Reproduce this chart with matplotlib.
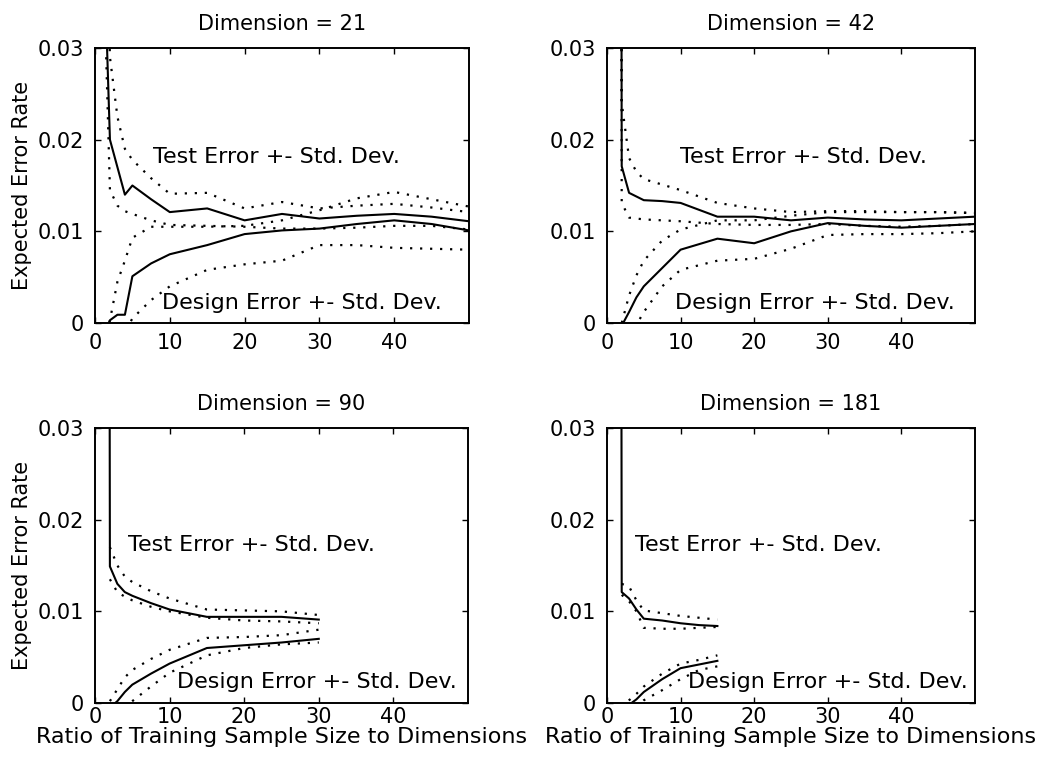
import matplotlib
matplotlib.use("Agg")
import matplotlib.pyplot as plt
import numpy as np

plt.rcParams['font.family'] = 'DejaVu Sans'
plt.rcParams['font.size'] = 15

nan = np.nan

# Dimension = 21
x21 = [1.5, 2, 3, 4, 5, 7.5, 10, 15, 20, 25, 30, 35, 40, 45, 50]
test21 = [0.033, 0.020, 0.017, 0.0140, 0.0150, 0.0135, 0.0121, 0.0125, 0.0112, 0.0119, 0.0114, 0.0117, 0.0119, 0.0116, 0.0111]
test21_up = [0.045, 0.029, 0.0225, 0.019, 0.0178, 0.0158, 0.0141, 0.0142, 0.0125, 0.0132, 0.0125, 0.0128, 0.0130, 0.0126, 0.0121]
test21_lo = [0.029, 0.0145, 0.0128, 0.0122, 0.0119, 0.0112, 0.0107, 0.0106, 0.0105, 0.0103, 0.0103, 0.0104, 0.0106, 0.0106, 0.0102]
design21 = [-0.001, 0.0003, 0.0009, 0.0009, 0.0051, 0.0065, 0.0075, 0.0085, 0.0097, 0.0101, 0.0103, 0.0108, 0.0112, 0.0108, 0.0101]
design21_up = [-0.001, 0.0003, 0.0045, 0.0068, 0.0093, 0.0105, 0.0105, 0.0105, 0.0106, 0.0112, 0.0123, 0.0136, 0.0143, 0.0135, 0.0127]
design21_lo = [-0.003, -0.003, -0.002, -0.001, 0.0005, 0.0025, 0.0040, 0.0058, 0.0064, 0.0068, 0.0085, 0.0085, 0.0082, 0.0081, 0.0080]

# Dimension = 42
x42 = [1.5, 2, 3, 4, 5, 7.5, 10, 15, 20, 25, 30, 35, 40, 45, 50]
test42 = [0.30, 0.0171, 0.0142, 0.0138, 0.0134, 0.0133, 0.0131, 0.0116, 0.0116, 0.0112, 0.0115, 0.0113, 0.0112, 0.0114, 0.0116]
test42_up = [0.40, 0.024, 0.0180, 0.0165, 0.0157, 0.0151, 0.0145, 0.0131, 0.0125, 0.0121, 0.0122, 0.0122, 0.0121, 0.0121, 0.0120]
test42_lo = [0.25, 0.0131, 0.0115, 0.0114, 0.0113, 0.0112, 0.0111, 0.0108, 0.0107, 0.0107, 0.0108, 0.0106, 0.0105, 0.0106, 0.0108]
design42 = [-0.001, -0.0003, 0.0012, 0.0028, 0.0040, 0.0060, 0.0080, 0.0092, 0.0087, 0.0100, 0.0109, 0.0106, 0.0104, 0.0106, 0.0108]
design42_up = [-0.001, 0.0, 0.0030, 0.0052, 0.0068, 0.0090, 0.0102, 0.0112, 0.0112, 0.0117, 0.0121, 0.0121, 0.0121, 0.0121, 0.0120]
design42_lo = [-0.003, -0.003, -0.0015, -0.0002, 0.0012, 0.0040, 0.0058, 0.0068, 0.0070, 0.0081, 0.0096, 0.0097, 0.0097, 0.0098, 0.0100]

# Dimension = 90
x90 = [1.5, 2, 3, 4, 5, 7.5, 10, 15, 20, 25, 30]
test90 = [0.30, 0.0149, 0.0130, 0.0121, 0.0117, 0.0109, 0.0102, 0.0094, 0.0094, 0.0094, 0.0091]
test90_up = [nan, 0.0170, 0.0150, 0.0138, 0.0132, 0.0122, 0.0114, 0.0102, 0.0101, 0.0100, 0.0096]
test90_lo = [nan, 0.0135, 0.0121, 0.0116, 0.0112, 0.0105, 0.0100, 0.0093, 0.0090, 0.0089, 0.0087]
design90 = [nan, -0.0005, 0.0002, 0.0012, 0.0020, 0.0032, 0.0043, 0.0060, 0.0063, 0.0066, 0.0070]
design90_up = [nan, 0.0002, 0.0015, 0.0028, 0.0036, 0.0048, 0.0058, 0.0071, 0.0072, 0.0074, 0.0080]
design90_lo = [nan, -0.002, -0.0012, -0.0005, 0.0002, 0.0018, 0.0033, 0.0052, 0.0060, 0.0064, 0.0066]

# Dimension = 181
x181 = [1.5, 2, 3, 4, 5, 7.5, 10, 12.5, 15]
test181 = [0.30, 0.0121, 0.0114, 0.0102, 0.0092, 0.0090, 0.0087, 0.0085, 0.0084]
test181_up = [nan, 0.0130, 0.0127, 0.0112, 0.0101, 0.0098, 0.0095, 0.0093, 0.0091]
test181_lo = [nan, 0.0118, 0.0111, 0.0100, 0.0082, 0.0081, 0.0081, 0.0082, 0.0083]
design181 = [nan, -0.0010, -0.0002, 0.0004, 0.0012, 0.0026, 0.0038, 0.0042, 0.0046]
design181_up = [nan, -0.0005, 0.0003, 0.0010, 0.0018, 0.0032, 0.0043, 0.0047, 0.0052]
design181_lo = [nan, -0.002, -0.0012, -0.0005, 0.0003, 0.0014, 0.0026, 0.0036, 0.0040]

dims = [21, 42, 90, 181]
xs = [x21, x42, x90, x181]
tests = [test21, test42, test90, test181]
tests_up = [test21_up, test42_up, test90_up, test181_up]
tests_lo = [test21_lo, test42_lo, test90_lo, test181_lo]
designs = [design21, design42, design90, design181]
designs_up = [design21_up, design42_up, design90_up, design181_up]
designs_lo = [design21_lo, design42_lo, design90_lo, design181_lo]
# text anchors (left x, centre y) in data units
test_txt = [(7.7, 0.0181), (9.9, 0.0181), (4.4, 0.0172), (3.8, 0.0172)]
design_txt = [(9.0, 0.0022), (9.2, 0.0022), (11.0, 0.0023), (11.0, 0.0023)]

fig = plt.figure(figsize=(10.46, 7.6), dpi=100)
boxes = [[0.0908, 0.575, 0.3576, 0.3618], [0.5803, 0.575, 0.3518, 0.3618],
         [0.0908, 0.075, 0.3566, 0.3618], [0.5803, 0.075, 0.3518, 0.3618]]

dots = (0, (1, 3.5))
for i in range(4):
    ax = fig.add_axes(boxes[i])
    x = xs[i]
    ax.plot(x, tests[i], color="black", lw=1.5)
    ax.plot(x, designs[i], color="black", lw=1.5)
    for s in [tests_up[i], tests_lo[i], designs_up[i], designs_lo[i]]:
        ax.plot(x, s, color="black", lw=1.6, linestyle=dots)
    ax.text(test_txt[i][0], test_txt[i][1], "Test Error +- Std. Dev.", va="center", ha="left", fontsize=16)
    ax.text(design_txt[i][0], design_txt[i][1], "Design Error +- Std. Dev.", va="center", ha="left", fontsize=16)
    ax.set_xlim(0, 50)
    ax.set_ylim(0, 0.03)
    ax.set_xticks([0, 10, 20, 30, 40])
    ax.set_yticks([0, 0.01, 0.02, 0.03])
    ax.set_yticklabels(["0", "0.01", "0.02", "0.03"])
    ax.tick_params(direction="in", top=True, right=True, length=4, width=1, labelsize=15)
    ax.tick_params(axis="y", pad=8)
    if i < 2:
        ax.tick_params(axis="x", pad=7)
    else:
        ax.tick_params(axis="x", pad=3)
        ax.set_xlabel("Ratio of Training Sample Size to Dimensions", fontsize=16, labelpad=0)
    if i % 2 == 0:
        ax.set_ylabel("Expected Error Rate", fontsize=15, labelpad=4)
    for sp in ax.spines.values():
        sp.set_linewidth(1.4)
    ax.set_title("Dimension = %d" % dims[i], fontsize=15, pad=13)

plt.savefig("out.png", dpi=100)
